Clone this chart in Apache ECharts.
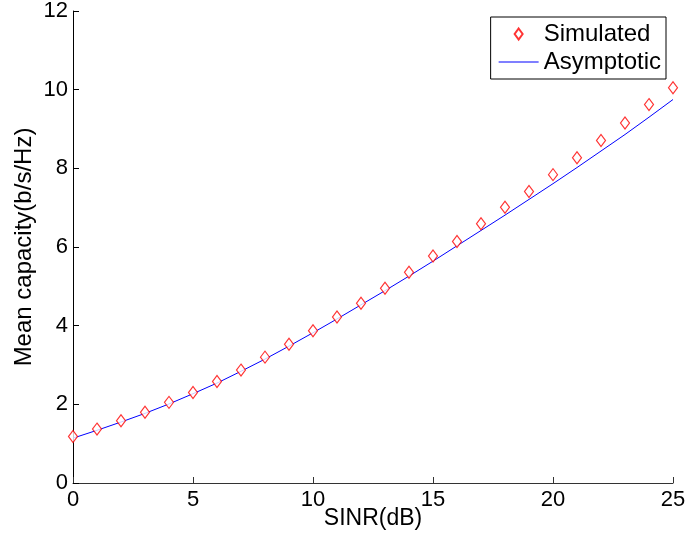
<!DOCTYPE html>
<html><head><meta charset="utf-8">
<script src="https://cdn.jsdelivr.net/npm/echarts@6/dist/echarts.min.js"></script>
<style>html,body{margin:0;padding:0;background:#fff}#c{width:687px;height:541px}</style>
</head><body><div id="c"></div>
<script>
const sinr = [0,1,2,3,4,5,6,7,8,9,10,11,12,13,14,15,16,17,18,19,20,21,22,23,24,25];
const simulated = [1.18,1.37,1.58,1.80,2.05,2.30,2.58,2.87,3.20,3.53,3.87,4.22,4.57,4.95,5.36,5.77,6.14,6.59,7.01,7.41,7.84,8.27,8.71,9.15,9.62,10.05];
const asymptotic = [1.14,1.34,1.55,1.77,2.01,2.27,2.54,2.84,3.15,3.48,3.82,4.17,4.53,4.89,5.26,5.64,6.03,6.42,6.81,7.21,7.61,8.02,8.44,8.86,9.30,9.75];
const xTicks = {min:0,max:25,interval:5};
const yTicks = {min:0,max:12,interval:2};

const font = 'Liberation Sans, Arial, Helvetica, sans-serif';
const chart = echarts.init(document.getElementById('c'));
chart.setOption({
  animation:false,
  grid:{left:73,right:14,top:11,bottom:58,containLabel:false,outerBoundsMode:'none'},
  legend:{
    orient:'vertical', right:21, top:17,
    borderColor:'#000', borderWidth:1, backgroundColor:'#fff',
    padding:[5,5,5,8], itemGap:4, itemWidth:40, itemHeight:11,
    symbolKeepAspect:true,
    textStyle:{fontFamily:font,fontSize:24,color:'#000'},
    data:[
      {name:'Simulated', icon:'path://M4,0 L8,5.5 L4,11 L0,5.5 Z'},
      {name:'Asymptotic', icon:'path://M0,0 L40,0 L40,1 L0,1 Z'}
    ]
  },
  xAxis:{
    type:'value', min:xTicks.min, max:xTicks.max, interval:xTicks.interval,
    name:'SINR(dB)', nameLocation:'middle', nameGap:24, nameMoveOverlap:false,
    nameTextStyle:{fontFamily:font,fontSize:23,color:'#000'},
    axisLine:{lineStyle:{color:'#333',width:1}},
    axisTick:{inside:true,length:6,lineStyle:{color:'#333'}},
    axisLabel:{fontFamily:font,fontSize:22,color:'#000',margin:6},
    splitLine:{show:false}
  },
  yAxis:{
    type:'value', min:yTicks.min, max:yTicks.max, interval:yTicks.interval,
    name:'Mean capacity(b/s/Hz)', nameLocation:'middle', nameGap:37, nameMoveOverlap:false,
    nameTextStyle:{fontFamily:font,fontSize:24,color:'#000'},
    axisLine:{show:true,lineStyle:{color:'#000',width:1}},
    axisTick:{show:true,inside:true,length:6,lineStyle:{color:'#000'}},
    axisLabel:{fontFamily:font,fontSize:22,color:'#000',margin:5},
    splitLine:{show:false}
  },
  series:[
    {name:'Simulated', type:'scatter', data:sinr.map((x,i)=>[x,simulated[i]]),
     symbol:'diamond', symbolSize:[9,12],
     itemStyle:{color:'#fff',borderColor:'#ff0000',borderWidth:1.2}, z:3},
    {name:'Asymptotic', type:'line', data:sinr.map((x,i)=>[x,asymptotic[i]]),
     symbol:'none', lineStyle:{color:'#0000ff',width:1}, itemStyle:{color:'#0000ff'}, z:2}
  ]
});
</script></body></html>
